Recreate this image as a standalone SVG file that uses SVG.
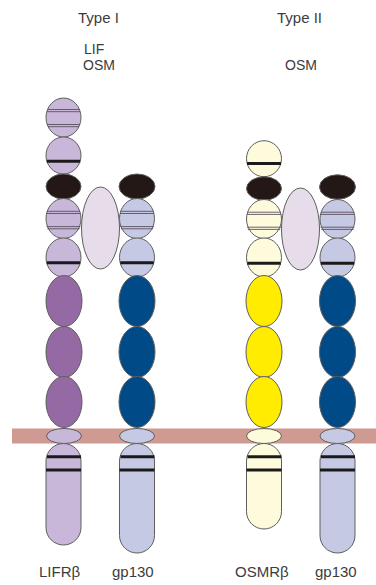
<svg xmlns="http://www.w3.org/2000/svg" width="376" height="585" viewBox="0 0 376 585">
  <style>
    .lbl { font-family: "Liberation Sans", Arial, sans-serif; font-size: 15px; fill: #3c3c3c; }
    .sm { font-size: 14px; }
    .o { stroke: #5e5e5e; stroke-width: 1; }
    .lifr { fill: #c9b7da; }
    .lifrD { fill: #9569a4; }
    .gp { fill: #c6c9e4; }
    .gpD { fill: #004a87; }
    .osmr { fill: #fefbdd; }
    .osmrD { fill: #ffec00; }
    .blk { fill: #231815; }
    .lig { fill: #e7dcea; }
    .bar { stroke: #1a1a1a; stroke-width: 3; }
    .thin { stroke: #5a5060; stroke-width: 0.9; }
  </style>

  <!-- cell membrane -->
  <rect id="membrane" x="12" y="428.5" width="364" height="15" fill="#cf9a92"/>

  <!-- Type I: LIFR beta -->
  <g id="lifr" class="o">
    <ellipse class="lifr" cx="63.5" cy="117.5" rx="17.5" ry="19.5"/>
    <ellipse class="lifr" cx="63.5" cy="155.5" rx="17.5" ry="18.5"/>
    <ellipse class="blk" cx="63.5" cy="186.5" rx="17.5" ry="12.5"/>
    <ellipse class="lifr" cx="63.5" cy="218.5" rx="17.5" ry="20"/>
    <ellipse class="lifr" cx="63.5" cy="257.5" rx="17.5" ry="19.5"/>
    <ellipse class="lifrD" cx="64" cy="301" rx="18" ry="25.5"/>
    <ellipse class="lifrD" cx="64" cy="352" rx="18" ry="25.5"/>
    <ellipse class="lifrD" cx="64" cy="402" rx="18" ry="25.5"/>
    <ellipse class="lifr" cx="64" cy="436" rx="17.5" ry="7.5"/>
    <path class="lifr" d="M46 461 A17.5 17.5 0 0 1 81 461 V527.5 A17.5 17.5 0 0 1 46 527.5 Z"/>
    <g stroke-width="0">
      <line class="thin" x1="47.5" y1="109.5" x2="79.5" y2="109.5"/>
      <line class="thin" x1="47" y1="111.7" x2="80" y2="111.7"/>
      <line class="thin" x1="47.2" y1="124.5" x2="79.8" y2="124.5"/>
      <line class="thin" x1="48" y1="126.7" x2="79" y2="126.7"/>
      <line class="bar" x1="46.8" y1="161.2" x2="80.2" y2="161.2"/>
      <line class="thin" x1="47" y1="211.3" x2="80" y2="211.3"/>
      <line class="thin" x1="46.5" y1="213.5" x2="80.5" y2="213.5"/>
      <line class="thin" x1="46.6" y1="226.6" x2="80.4" y2="226.6"/>
      <line class="thin" x1="47.3" y1="228.8" x2="79.7" y2="228.8"/>
      <line class="bar" x1="46.8" y1="262.8" x2="80.2" y2="262.8"/>
      <line class="bar" x1="47" y1="456.8" x2="81" y2="456.8"/>
      <line class="bar" x1="46" y1="470" x2="81" y2="470"/>
    </g>
  </g>

  <!-- Type I: ligand -->
  <g id="ligand1">
    <ellipse class="lig o" cx="100.5" cy="228" rx="19" ry="41"/>
  </g>

  <!-- Type I: gp130 -->
  <g id="gp130a" class="o">
    <ellipse class="blk" cx="137" cy="186.5" rx="18" ry="12.5"/>
    <ellipse class="gp" cx="137" cy="218.5" rx="17.5" ry="20"/>
    <ellipse class="gp" cx="137" cy="257.5" rx="17.5" ry="19.5"/>
    <ellipse class="gpD" cx="137" cy="301" rx="18" ry="25.5"/>
    <ellipse class="gpD" cx="137" cy="352" rx="18" ry="25.5"/>
    <ellipse class="gpD" cx="137" cy="402" rx="18" ry="25.5"/>
    <ellipse class="gp" cx="137" cy="436" rx="17.5" ry="7.5"/>
    <path class="gp" d="M119.5 461 A17.5 17.5 0 0 1 154.5 461 V535.5 A17.5 17.5 0 0 1 119.5 535.5 Z"/>
    <g stroke-width="0">
      <line class="thin" x1="120.5" y1="211.3" x2="153.5" y2="211.3"/>
      <line class="thin" x1="120" y1="213.5" x2="154" y2="213.5"/>
      <line class="thin" x1="120.1" y1="226.6" x2="153.9" y2="226.6"/>
      <line class="thin" x1="120.8" y1="228.8" x2="153.2" y2="228.8"/>
      <line class="bar" x1="120.3" y1="262.8" x2="153.7" y2="262.8"/>
      <line class="bar" x1="120.5" y1="456.8" x2="154.5" y2="456.8"/>
      <line class="bar" x1="119.5" y1="470" x2="154.5" y2="470"/>
    </g>
  </g>

  <!-- Type II: OSMR beta -->
  <g id="osmr" class="o">
    <ellipse class="osmr" cx="264" cy="158.7" rx="17.5" ry="18"/>
    <ellipse class="blk" cx="264" cy="188.5" rx="17.5" ry="11.7"/>
    <ellipse class="osmr" cx="264" cy="219" rx="17.5" ry="19.5"/>
    <ellipse class="osmr" cx="264" cy="257.5" rx="17.5" ry="19.5"/>
    <ellipse class="osmrD" cx="264" cy="301" rx="18" ry="25.5"/>
    <ellipse class="osmrD" cx="264" cy="352" rx="18" ry="25.5"/>
    <ellipse class="osmrD" cx="264" cy="402" rx="18" ry="25.5"/>
    <ellipse class="osmr" cx="264" cy="436" rx="17.5" ry="7.5"/>
    <path class="osmr" d="M246.5 461 A17.5 17.5 0 0 1 281.5 461 V511.5 A17.5 17.5 0 0 1 246.5 511.5 Z"/>
    <g stroke-width="0">
      <line class="bar" x1="247" y1="163.5" x2="281" y2="163.5"/>
      <line class="thin" x1="247.5" y1="212.2" x2="280.5" y2="212.2"/>
      <line class="thin" x1="247" y1="214.4" x2="281" y2="214.4"/>
      <line class="thin" x1="247" y1="227.2" x2="281" y2="227.2"/>
      <line class="thin" x1="247.8" y1="229.4" x2="280.2" y2="229.4"/>
      <line class="bar" x1="247.3" y1="263.3" x2="280.7" y2="263.3"/>
      <line class="bar" x1="247.5" y1="456.8" x2="281.5" y2="456.8"/>
      <line class="bar" x1="246.5" y1="470" x2="281.5" y2="470"/>
    </g>
  </g>

  <!-- Type II: ligand -->
  <g id="ligand2">
    <ellipse class="lig o" cx="300.5" cy="229" rx="19" ry="41"/>
  </g>

  <!-- Type II: gp130 -->
  <g id="gp130b" class="o">
    <ellipse class="blk" cx="337.5" cy="187" rx="18" ry="12.2"/>
    <ellipse class="gp" cx="337.5" cy="219" rx="17.5" ry="19.5"/>
    <ellipse class="gp" cx="337.5" cy="257.5" rx="17.5" ry="19.5"/>
    <ellipse class="gpD" cx="337.5" cy="301" rx="18" ry="25.5"/>
    <ellipse class="gpD" cx="337.5" cy="352" rx="18" ry="25.5"/>
    <ellipse class="gpD" cx="337.5" cy="402" rx="18" ry="25.5"/>
    <ellipse class="gp" cx="337.5" cy="436" rx="17.5" ry="7.5"/>
    <path class="gp" d="M320 461 A17.5 17.5 0 0 1 355 461 V535.5 A17.5 17.5 0 0 1 320 535.5 Z"/>
    <g stroke-width="0">
      <line class="thin" x1="321" y1="212.2" x2="354" y2="212.2"/>
      <line class="thin" x1="320.5" y1="214.4" x2="354.5" y2="214.4"/>
      <line class="thin" x1="320.5" y1="227.2" x2="354.5" y2="227.2"/>
      <line class="thin" x1="321.3" y1="229.4" x2="353.7" y2="229.4"/>
      <line class="bar" x1="320.8" y1="263.3" x2="354.2" y2="263.3"/>
      <line class="bar" x1="321" y1="456.8" x2="355" y2="456.8"/>
      <line class="bar" x1="320" y1="470" x2="355" y2="470"/>
    </g>
  </g>

  <!-- labels -->
  <g id="labels">
    <text class="lbl" x="78" y="23">Type I</text>
    <text class="lbl sm" x="84" y="54">LIF</text>
    <text class="lbl sm" x="83" y="70">OSM</text>
    <text class="lbl" x="277" y="23">Type II</text>
    <text class="lbl sm" x="285" y="70">OSM</text>
    <text class="lbl" x="39" y="577">LIFRβ</text>
    <text class="lbl" x="112" y="577">gp130</text>
    <text class="lbl" x="235" y="577">OSMRβ</text>
    <text class="lbl" x="315" y="577">gp130</text>
  </g>
</svg>
